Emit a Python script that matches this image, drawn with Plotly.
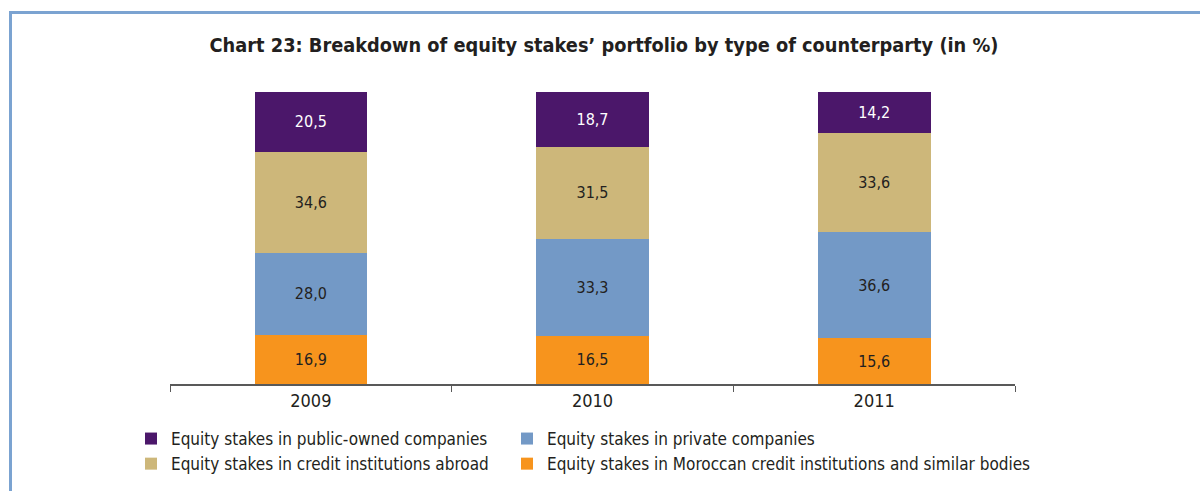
import plotly.graph_objects as go

years = ["2009", "2010", "2011"]
moroccan = [16.9, 16.5, 15.6]
private = [28.0, 33.3, 36.6]
abroad = [34.6, 31.5, 33.6]
public = [20.5, 18.7, 14.2]

names = {
    "public": "Equity stakes in public-owned companies",
    "private": "Equity stakes in private companies",
    "abroad": "Equity stakes in credit institutions abroad",
    "moroccan": "Equity stakes in Moroccan credit institutions and similar bodies",
}
colors = {"public": "#4B176A", "private": "#7399C6", "abroad": "#CDB77A", "moroccan": "#F7941D"}
legend_of = {"public": "legend", "abroad": "legend", "private": "legend2", "moroccan": "legend2"}
ranks = {"public": 1, "abroad": 2, "private": 1, "moroccan": 2}

FONT = "DejaVu Sans Condensed, sans-serif"

fig = go.Figure()
for key, vals in [("moroccan", moroccan), ("private", private), ("abroad", abroad), ("public", public)]:
    fig.add_trace(go.Bar(
        x=years, y=vals, name=names[key],
        marker=dict(color=colors[key], line=dict(width=0)),
        texttemplate="%{y:.1f}", textposition="inside", insidetextanchor="middle",
        textangle=0,
        textfont=dict(family=FONT, size=16, color="#FFFFFF" if key == "public" else "#231F20"),
        legend=legend_of[key], legendrank=ranks[key],
    ))

W, H = 1200, 491
L, R, T, B = 170, 185, 92, 107
pw, ph = W - L - R, H - T - B

def px(x):
    return (x - L) / pw

def py(y):
    return (H - B - y) / ph

border = "#7BA3D1"
shapes = [
    dict(type="line", xref="paper", yref="paper", x0=px(9), x1=px(1200), y0=py(12.5), y1=py(12.5),
         line=dict(color=border, width=3)),
    dict(type="line", xref="paper", yref="paper", x0=px(10.5), x1=px(10.5), y0=py(11), y1=py(491),
         line=dict(color=border, width=3)),
]

legend_common = dict(orientation="v", xanchor="left", yanchor="top", traceorder="normal",
                     font=dict(family=FONT, size=17), tracegroupgap=0, itemclick=False,
                     bgcolor="rgba(0,0,0,0)")

fig.update_layout(
    width=W, height=H,
    margin=dict(l=L, r=R, t=T, b=B, autoexpand=False),
    barmode="stack", bargap=0.6,
    separators=", ",
    paper_bgcolor="white", plot_bgcolor="white",
    font=dict(family=FONT, size=16, color="#231F20"),
    title=dict(text="<b>Chart 23: Breakdown of equity stakes’ portfolio by type of counterparty (in %)</b>",
               x=px(604), xref="paper", xanchor="center", y=1 - 45 / H, yanchor="middle",
               font=dict(family=FONT, size=19.8, color="#231F20")),
    xaxis=dict(showline=True, linecolor="#595959", linewidth=1.5, ticks="outside", ticklen=6,
               tickcolor="#595959", tickson="boundaries", tickfont=dict(size=18),
               showgrid=False, zeroline=False),
    yaxis=dict(range=[0, 100], visible=False, showgrid=False, zeroline=False),
    legend=dict(x=px(131), y=py(421), **legend_common),
    legend2=dict(x=px(507), y=py(421), **legend_common),
    shapes=shapes,
    showlegend=True,
)

fig.write_html("out.html", config={"displayModeBar": False},
               post_script="document.body.style.margin='0';document.body.style.padding='0';")
